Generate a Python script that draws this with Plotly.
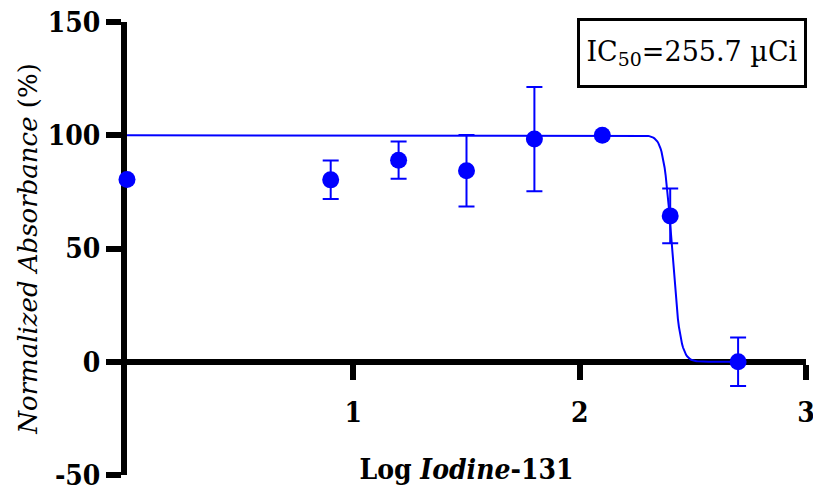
import numpy as np
import plotly.graph_objects as go

# Data
log_dose = [0.0, 0.90, 1.20, 1.50, 1.80, 2.10, 2.40, 2.70]
absorbance = [80.5, 80.3, 89.0, 84.3, 98.3, 100.0, 64.4, 0.0]
sem = [None, 8.5, 8.2, 15.8, 23.0, None, 12.1, 10.7]

# Four-parameter logistic fit shown in the chart
fit_top = 100.0
fit_bottom = 0.0
ic50_uci = 255.7
fit_hill = 24.0
curve_start, curve_end = 0.0, 2.71

x_ticks = [1, 2, 3]
y_ticks = [-50, 0, 50, 100, 150]

log_ic50 = np.log10(ic50_uci)
xc = np.linspace(curve_start, curve_end, 600)
yc = fit_bottom + (fit_top - fit_bottom) / (1 + 10 ** ((xc - log_ic50) * fit_hill))

BLUE = "#0000ff"
COND = "DejaVu Serif Condensed, DejaVu Serif, serif"
TICK_FONT = dict(family=COND, size=28, color="black")

fig = go.Figure()
fig.add_trace(go.Scatter(x=xc, y=yc, mode="lines", line=dict(color=BLUE, width=2),
                         hoverinfo="skip", cliponaxis=False, showlegend=False))
fig.add_trace(go.Scatter(
    x=log_dose, y=absorbance, mode="markers",
    marker=dict(color=BLUE, size=17),
    error_y=dict(type="data", array=sem, visible=True, color=BLUE, thickness=2, width=8),
    cliponaxis=False, showlegend=False))

fig.update_layout(
    width=813, height=491,
    margin=dict(l=127, r=7, t=22, b=16, autoexpand=False),
    paper_bgcolor="white", plot_bgcolor="white",
    xaxis=dict(
        range=[0, 3], tickvals=x_ticks, ticktext=[f"<b>{t}</b>" for t in x_ticks],
        anchor="free", position=0.25, showgrid=False, zeroline=False,
        showline=True, linecolor="black", linewidth=6,
        ticks="outside", ticklen=15, tickwidth=6, tickcolor="black",
        tickfont=TICK_FONT, layer="below traces", automargin=False,
        ticklabeloverflow="allow", ticklabelstandoff=9,
        title=dict(text="<b>Log <i>Iodine</i>-131</b>", standoff=30,
                   font=dict(family=COND, size=28, color="black")),
    ),
    yaxis=dict(
        range=[-50, 150], tickvals=y_ticks, ticktext=[f"<b>{t}</b>" for t in y_ticks],
        showgrid=False, zeroline=False,
        showline=True, linecolor="black", linewidth=6,
        ticks="outside", ticklen=15, tickwidth=6, tickcolor="black",
        tickfont=TICK_FONT, layer="below traces", automargin=False,
        ticklabeloverflow="allow",
        title=dict(text="<i>Normalized Absorbance</i> (%)", standoff=5,
                   font=dict(family="DejaVu Serif, serif", size=26, color="black")),
    ),
    annotations=[dict(
        xref="paper", yref="paper", x=0.832, y=0.932, xanchor="center", yanchor="middle",
        text="IC<sub>50</sub>=255.7 µCi", showarrow=False,
        font=dict(family="DejaVu Serif, serif", size=27, color="black"),
        width=218, height=58, align="center", valign="middle",
        bordercolor="black", borderwidth=3, borderpad=3, bgcolor="white",
    )],
)

fig.write_html("out.html", config={"displayModeBar": False},
               post_script="document.body.style.margin='0';")
